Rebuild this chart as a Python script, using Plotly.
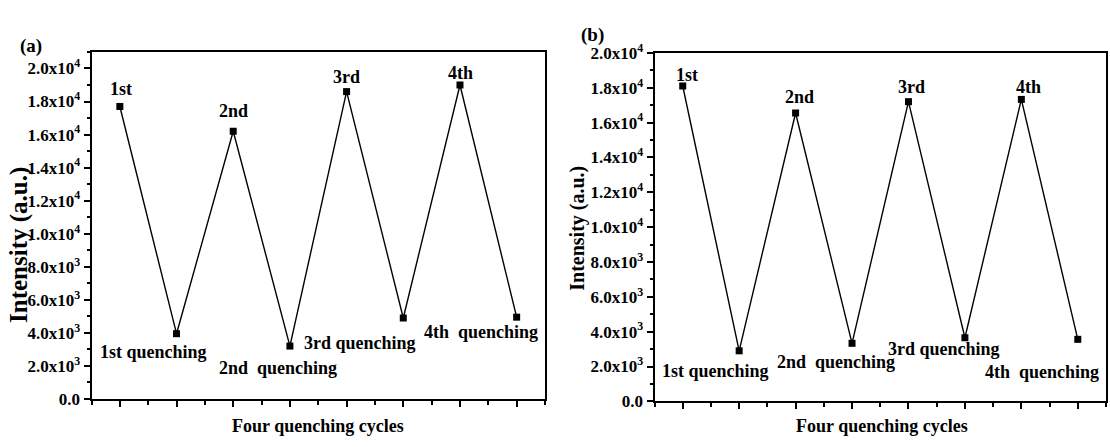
import plotly.graph_objects as go

# ---- data ----
cycles = [1, 2, 3, 4, 5, 6, 7, 8]
intensity_a = [17700, 3950, 16200, 3200, 18600, 4900, 19000, 4950]
intensity_b = [18100, 2900, 16550, 3330, 17200, 3650, 17330, 3560]
point_labels = ["1st", "1st quenching", "2nd", "2nd  quenching",
                "3rd", "3rd quenching", "4th", "4th  quenching"]
y_tickvals = [0, 2000, 4000, 6000, 8000, 10000, 12000, 14000, 16000, 18000, 20000]
y_ticktext = ["0.0", "2.0x10<sup>3</sup>", "4.0x10<sup>3</sup>", "6.0x10<sup>3</sup>",
              "8.0x10<sup>3</sup>", "1.0x10<sup>4</sup>", "1.2x10<sup>4</sup>",
              "1.4x10<sup>4</sup>", "1.6x10<sup>4</sup>", "1.8x10<sup>4</sup>",
              "2.0x10<sup>4</sup>"]
x_title = "Four quenching cycles"
y_title = "Intensity (a.u.)"

# label pixel offsets (style)
offs_a = [(1, 17), (-23, -18), (0, 20), (-12, -22), (0, 15), (-43, -25), (1, 12), (-36, -15)]
offs_b = [(4, 11), (-24, -20), (4, 16), (-16, -19), (3, 15), (-21, -11), (7, 12), (-36, -33)]

W, H = 1110, 447
FONT = "Liberation Serif, Times New Roman, serif"

fig = go.Figure()
for xa, ya, vals in [("x", "y", intensity_a), ("x2", "y2", intensity_b)]:
    fig.add_trace(go.Scatter(
        x=cycles, y=vals, xaxis=xa, yaxis=ya, mode="lines+markers",
        line=dict(color="black", width=1.4),
        marker=dict(symbol="square", size=7, color="black"),
        showlegend=False, cliponaxis=False))

def px_dom_x(a, b):
    return [a / W, b / W]

def px_dom_y(top, bottom):
    return [(H - bottom) / H, (H - top) / H]

ax_common = dict(showline=True, linecolor="black", linewidth=2, mirror=True,
                 showgrid=False, zeroline=False, ticks="outside", tickcolor="black")

xcommon = dict(ax_common, range=[0.5, 8.5], tickvals=cycles, showticklabels=False,
               ticklen=6, tickwidth=1.5,
               minor=dict(tick0=0.5, dtick=1, ticks="outside", ticklen=4,
                          tickcolor="black", tickwidth=1.5))
ycommon = dict(ax_common, tickmode="array", tickvals=y_tickvals,
               ticktext=["<b>%s</b>" % t for t in y_ticktext],
               tickfont=dict(family=FONT, size=17, color="black"),
               ticklen=6, tickwidth=1.5,
               minor=dict(tick0=0, dtick=1000, ticks="outside", ticklen=3,
                          tickcolor="black", tickwidth=1.5))

fig.update_layout(
    width=W, height=H, margin=dict(l=0, r=0, t=0, b=0),
    paper_bgcolor="white", plot_bgcolor="white",
    font=dict(family=FONT, color="black"),
    xaxis=dict(xcommon, domain=px_dom_x(91.5, 545), anchor="y"),
    yaxis=dict(ycommon, domain=px_dom_y(42, 407), range=[0, 21000], anchor="x"),
    xaxis2=dict(xcommon, domain=px_dom_x(654.5, 1106), anchor="y2"),
    yaxis2=dict(ycommon, domain=px_dom_y(43, 409.5), range=[0, 20000], anchor="x2"),
)

ann = []
for xr, yr, vals, offs in [("x", "y", intensity_a, offs_a), ("x2", "y2", intensity_b, offs_b)]:
    for xv, yv, lab, (dx, dy) in zip(cycles, vals, point_labels, offs):
        ann.append(dict(x=xv, y=yv, xref=xr, yref=yr, text="<b>%s</b>" % lab,
                        showarrow=False, xshift=dx, yshift=dy,
                        xanchor="center", yanchor="middle",
                        font=dict(family=FONT, size=18, color="black")))

# axis titles and panel letters (paper coords)
for cx, cy in [(318, 435), (882, 435)]:
    ann.append(dict(x=cx / W, y=(H - cy) / H, xref="paper", yref="paper",
                    text="<b>%s</b>" % x_title, showarrow=False,
                    xanchor="center", yanchor="middle",
                    font=dict(family=FONT, size=18, color="black")))
for cx, cy, sz in [(19, 245, 25), (578, 228, 20)]:
    ann.append(dict(x=cx / W, y=(H - cy) / H, xref="paper", yref="paper",
                    text="<b>%s</b>" % y_title, showarrow=False, textangle=-90,
                    xanchor="center", yanchor="middle",
                    font=dict(family=FONT, size=sz, color="black")))
for txt, cx, cy in [("(a)", 31, 36), ("(b)", 592, 24)]:
    ann.append(dict(x=cx / W, y=(H - cy) / H, xref="paper", yref="paper",
                    text="<b>%s</b>" % txt, showarrow=False,
                    xanchor="center", yanchor="middle",
                    font=dict(family=FONT, size=19, color="black")))

fig.update_layout(annotations=ann)
fig.write_html("out.html")
